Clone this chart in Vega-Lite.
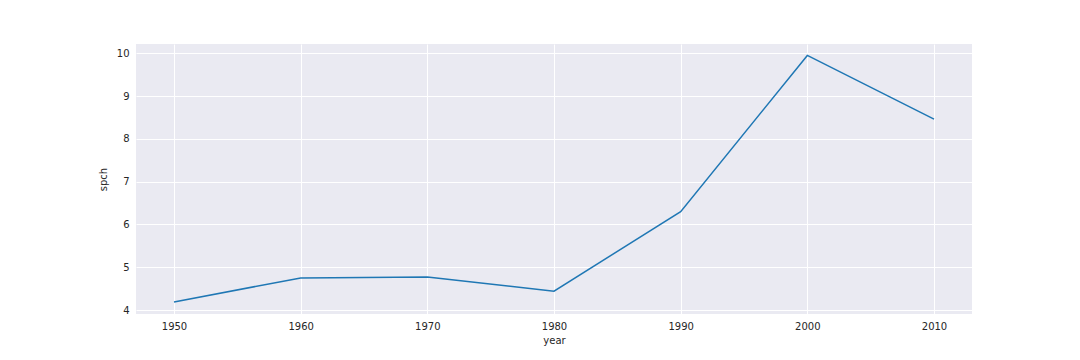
{
  "$schema": "https://vega.github.io/schema/vega-lite/v6.json",
  "width": 836,
  "height": 270,
  "autosize": {"type": "none"},
  "padding": {"left": 136, "top": 44, "right": 108, "bottom": 46},
  "background": "white",
  "config": {
    "view": {"fill": "#EAEAF2", "stroke": null},
    "axis": {
      "domain": false,
      "ticks": false,
      "grid": true,
      "gridColor": "white",
      "gridWidth": 1,
      "labelFont": "DejaVu Sans",
      "labelFontSize": 10,
      "labelColor": "#262626",
      "titleFont": "DejaVu Sans",
      "titleFontSize": 10,
      "titleFontWeight": "normal",
      "titleColor": "#262626",
      "labelPadding": 7
    }
  },
  "data": {
    "values": [
      {"year": 1950, "spch": 4.19},
      {"year": 1960, "spch": 4.75},
      {"year": 1970, "spch": 4.77},
      {"year": 1980, "spch": 4.44},
      {"year": 1990, "spch": 6.30},
      {"year": 2000, "spch": 9.95},
      {"year": 2010, "spch": 8.46}
    ]
  },
  "mark": {"type": "line", "color": "#1f77b4", "strokeWidth": 1.5},
  "encoding": {
    "x": {
      "field": "year",
      "type": "quantitative",
      "scale": {"domain": [1947, 2013], "nice": false, "zero": false},
      "axis": {"values": [1950, 1960, 1970, 1980, 1990, 2000, 2010], "format": "d", "title": "year", "titlePadding": 4}
    },
    "y": {
      "field": "spch",
      "type": "quantitative",
      "scale": {"domain": [3.907, 10.217], "nice": false, "zero": false},
      "axis": {"values": [4, 5, 6, 7, 8, 9, 10], "title": "spch", "titlePadding": 8}
    }
  }
}
